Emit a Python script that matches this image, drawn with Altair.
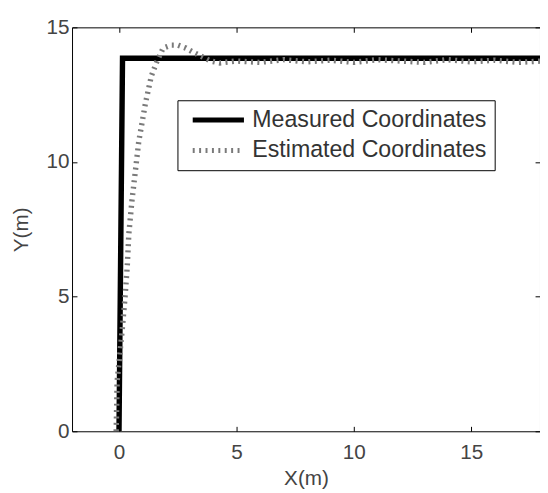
import altair as alt
import pandas as pd

series_names = ["Measured Coordinates", "Estimated Coordinates"]

measured_x = [0.0, 0.15, 18.0]
measured_y = [0.0, 13.85, 13.85]

estimated_x = [-0.12, -0.08, 0.13, 0.25, 0.35, 0.42, 0.55, 0.71, 0.84, 1.13, 1.38, 1.59,
               1.88, 2.22, 2.51, 2.85, 3.22, 3.47, 3.9, 4.3, 5.0, 6.0, 7.0, 8.0, 9.0, 10.0,
               11.0, 12.0, 13.0, 14.0, 15.0, 16.0, 17.0, 18.0]
estimated_y = [0.0, 1.85, 3.7, 4.9, 6.1, 7.34, 8.55, 9.76, 10.75, 12.2, 13.2, 13.68,
               14.23, 14.34, 14.34, 14.23, 14.05, 13.94, 13.75, 13.68, 13.75, 13.7, 13.8, 13.72,
               13.78, 13.7, 13.8, 13.75, 13.7, 13.8, 13.72, 13.78, 13.7, 13.75]

x_ticks = [0, 5, 10, 15]
y_ticks = [0, 5, 10, 15]

rows = []
for i, (x, y) in enumerate(zip(measured_x, measured_y)):
    rows.append({"series": series_names[0], "x": x, "y": y, "order": i})
for i, (x, y) in enumerate(zip(estimated_x, estimated_y)):
    rows.append({"series": series_names[1], "x": x, "y": y, "order": i})
df = pd.DataFrame(rows)

FONT = "Liberation Sans"
TXT = "#444444"

xscale = alt.Scale(domain=[-2, 17.93], nice=False, zero=False)
yscale = alt.Scale(domain=[0, 15], nice=False, zero=False)

legend_cfg = dict(
    title=None, orient="none", legendX=107, legendY=74, padding=8,
    strokeColor="black", fillColor="white", cornerRadius=0,
    symbolType="stroke", symbolSize=2704, symbolStrokeWidth=5, symbolOffset=5,
    labelOffset=6, labelFontSize=23.5, labelFont=FONT, labelColor="#333333",
    labelLimit=600, clipHeight=24, rowPadding=7,
    labelExpr="datum.label + '\u00a0\u00a0'",
)

main = alt.Chart(df).mark_line(clip=True, strokeWidth=5.5).encode(
    x=alt.X("x:Q", scale=xscale, axis=alt.Axis(
        orient="bottom", values=x_ticks, title="X(m)", ticks=False, tickSize=0,
        domain=False, grid=False, labelPadding=11, labelFontSize=21, labelFont=FONT,
        labelColor=TXT, titleFontSize=21, titleFont=FONT, titleColor=TXT,
        titleFontWeight="normal", titleY=54, titleBaseline="alphabetic")),
    y=alt.Y("y:Q", scale=yscale, axis=alt.Axis(
        orient="left", values=y_ticks, title="Y(m)", ticks=False, tickSize=0,
        domain=False, grid=False, labelPadding=3, labelFontSize=21, labelFont=FONT,
        labelColor=TXT, titleFontSize=21, titleFont=FONT, titleColor=TXT,
        titleFontWeight="normal", titleX=-51, titleY=205, titleBaseline="middle")),
    color=alt.Color("series:N", scale=alt.Scale(domain=series_names, range=["#000000", "#7a7a7a"]),
                    legend=alt.Legend(**legend_cfg)),
    strokeDash=alt.StrokeDash("series:N", scale=alt.Scale(domain=series_names, range=[[1, 0], [2, 4.5]]),
                              legend=alt.Legend(**legend_cfg)),
    order="order:Q",
)

tick_common = dict(labels=False, domain=False, grid=False, title=None, ticks=True,
                   tickSize=5, tickColor="black", tickWidth=1, offset=-5)

ticks_bl = alt.Chart(df).mark_point(opacity=0).encode(
    x=alt.X("x:Q", scale=xscale, axis=alt.Axis(orient="bottom", values=x_ticks, **tick_common)),
    y=alt.Y("y:Q", scale=yscale, axis=alt.Axis(orient="left", values=y_ticks, **tick_common)),
)
ticks_tr = alt.Chart(df).mark_point(opacity=0).encode(
    x=alt.X("x:Q", scale=xscale, axis=alt.Axis(orient="top", values=x_ticks, **tick_common)),
    y=alt.Y("y:Q", scale=yscale, axis=alt.Axis(orient="right", values=y_ticks, **tick_common)),
)

chart = alt.layer(main, ticks_bl, ticks_tr).resolve_axis(
    x="independent", y="independent"
).properties(
    width=475, height=410,
    padding={"left": 65, "top": 16, "right": 0, "bottom": 59},
    autosize=alt.AutoSizeParams(type="none"),
    background="white",
).configure_view(stroke="black", strokeWidth=1)

chart.save("out.html", embed_options={"renderer": "svg", "actions": False})
